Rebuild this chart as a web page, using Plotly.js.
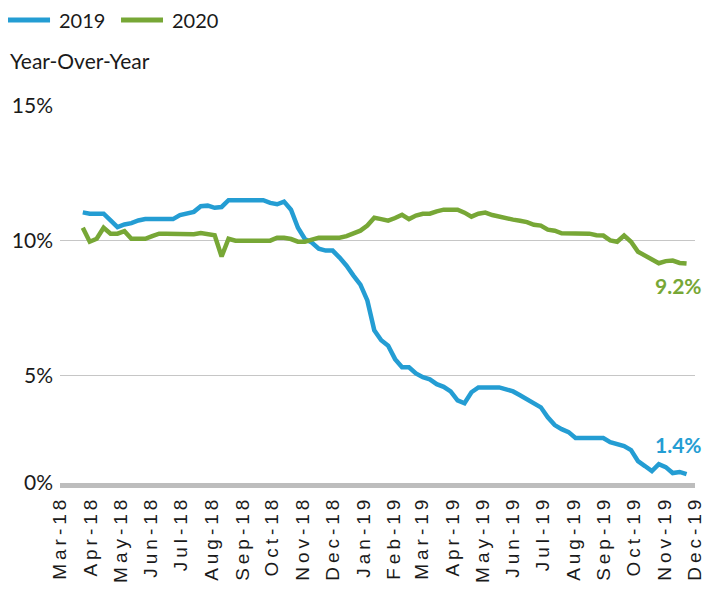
<!DOCTYPE html>
<html>
<head>
<meta charset="utf-8">
<script src="https://cdn.plot.ly/plotly-3.0.1.min.js"></script>
<style>
html,body{margin:0;padding:0;background:#fff;}
#chart{width:705px;height:594px;}
#chart .xtick text{letter-spacing:4px;}
</style>
</head>
<body>
<div id="chart"></div>
<script>
// Weekly observation dates
const weeks = [
 '2018-03-24','2018-03-31','2018-04-07','2018-04-14','2018-04-21','2018-04-28','2018-05-05','2018-05-12','2018-05-19','2018-05-26',
 '2018-06-02','2018-06-09','2018-06-16','2018-06-23','2018-06-30','2018-07-07','2018-07-14','2018-07-21','2018-07-28','2018-08-04',
 '2018-08-11','2018-08-18','2018-08-25','2018-09-01','2018-09-08','2018-09-15','2018-09-22','2018-09-29','2018-10-06','2018-10-13',
 '2018-10-20','2018-10-27','2018-11-03','2018-11-10','2018-11-17','2018-11-24','2018-12-01','2018-12-08','2018-12-15','2018-12-22',
 '2018-12-29','2019-01-05','2019-01-12','2019-01-19','2019-01-26','2019-02-02','2019-02-09','2019-02-16','2019-02-23','2019-03-02',
 '2019-03-09','2019-03-16','2019-03-23','2019-03-30','2019-04-06','2019-04-13','2019-04-20','2019-04-27','2019-05-04','2019-05-11',
 '2019-05-18','2019-05-25','2019-06-01','2019-06-08','2019-06-15','2019-06-22','2019-06-29','2019-07-06','2019-07-13','2019-07-20',
 '2019-07-27','2019-08-03','2019-08-10','2019-08-17','2019-08-24','2019-08-31','2019-09-07','2019-09-14','2019-09-21','2019-09-28',
 '2019-10-05','2019-10-12','2019-10-19','2019-10-26','2019-11-02','2019-11-09','2019-11-16','2019-11-23'
];

// Year-over-year %, series "2019"
const series2019 = [
 11.05, 11.0, 11.0, 11.0, 10.75, 10.5, 10.6, 10.65, 10.75, 10.8,
 10.8, 10.8, 10.8, 10.8, 10.95, 11.0, 11.07, 11.28, 11.3, 11.22,
 11.25, 11.5, 11.5, 11.5, 11.5, 11.5, 11.5, 11.4, 11.35, 11.45,
 11.15, 10.48, 10.06, 9.93, 9.7, 9.63, 9.63, 9.37, 9.07, 8.7,
 8.37, 7.78, 6.67, 6.3, 6.1, 5.6, 5.3, 5.3, 5.07, 4.93,
 4.85, 4.67, 4.57, 4.4, 4.07, 3.96, 4.37, 4.55, 4.55, 4.55,
 4.55, 4.48, 4.4, 4.26, 4.11, 4.0, 3.81, 3.44, 3.15, 3.0,
 2.89, 2.67, 2.67, 2.67, 2.67, 2.67, 2.52, 2.44, 2.37, 2.22,
 1.81, 1.63, 1.44, 1.7, 1.59, 1.37, 1.41, 1.33
];

// Year-over-year %, series "2020"
const series2020 = [
 10.48, 9.96, 10.07, 10.48, 10.26, 10.26, 10.35, 10.07, 10.07, 10.07,
 10.17, 10.26, 10.26, 10.26, 10.25, 10.22, 10.24, 10.28, 10.25, 10.2,
 9.41, 10.07, 10.0, 10.0, 10.0, 10.0, 10.0, 10.0, 10.11, 10.11,
 10.06, 9.96, 9.96, 10.05, 10.11, 10.11, 10.11, 10.11, 10.17, 10.27,
 10.37, 10.56, 10.85, 10.8, 10.74, 10.84, 10.96, 10.8, 10.93, 11.0,
 11.0, 11.09, 11.15, 11.15, 11.15, 11.04, 10.89, 11.0, 11.04, 10.95,
 10.88, 10.85, 10.78, 10.74, 10.69, 10.59, 10.56, 10.41, 10.37, 10.27,
 10.26, 10.26, 10.26, 10.26, 10.2, 10.19, 10.01, 9.96, 10.19, 9.96,
 9.59, 9.44, 9.3, 9.16, 9.24, 9.26, 9.17, 9.15
];

const seriesNames = ['2019', '2020'];
const monthTicks = ['2018-03-01','2018-04-01','2018-05-01','2018-06-01','2018-07-01','2018-08-01','2018-09-01','2018-10-01',
 '2018-11-01','2018-12-01','2019-01-01','2019-02-01','2019-03-01','2019-04-01','2019-05-01','2019-06-01','2019-07-01',
 '2019-08-01','2019-09-01','2019-10-01','2019-11-01','2019-12-01'];
const monthLabels = ['Mar-18','Apr-18','May-18','Jun-18','Jul-18','Aug-18','Sep-18','Oct-18','Nov-18','Dec-18',
 'Jan-19','Feb-19','Mar-19','Apr-19','May-19','Jun-19','Jul-19','Aug-19','Sep-19','Oct-19','Nov-19','Dec-19'];
const yTickVals = [1.0, 5, 10, 15];
const yTickText = ['0%', '5%', '10%', '15%'];
const endLabels = ['1.4%', '9.2%'];

const BLUE = '#249dd3';
const GREEN = '#77a736';
const TEXT = '#1a1a1a';
const FONT = 'Lato, "Noto Sans", sans-serif';
const colors = [BLUE, GREEN];

const traces = [
  {x: weeks, y: series2019, name: seriesNames[0], type: 'scatter', mode: 'lines',
   line: {color: BLUE, width: 4.5}},
  {x: weeks, y: series2020, name: seriesNames[1], type: 'scatter', mode: 'lines',
   line: {color: GREEN, width: 4.5}}
];

// legend built as layout decorations (swatch + label), placed above the plot (plot spans x 60..695)
const legendSwatchX = [[-0.0819, -0.0157], [0.0961, 0.1622]];
const legendTextX = [-0.0047, 0.1732];
const legendY = 1.228;
const shapes = [];
const annotations = [];
seriesNames.forEach((n, i) => {
  shapes.push({type: 'line', xref: 'paper', yref: 'paper', x0: legendSwatchX[i][0], x1: legendSwatchX[i][1],
               y0: legendY, y1: legendY, line: {color: colors[i], width: 5}});
  annotations.push({xref: 'paper', yref: 'paper', x: legendTextX[i], y: legendY, xanchor: 'left', yanchor: 'middle',
               showarrow: false, text: n, font: {family: FONT, size: 20, color: TEXT}});
});

const last = weeks.length - 1;
annotations.push(
  {xref: 'paper', yref: 'paper', x: -0.0819, y: 1.12, xanchor: 'left', yanchor: 'middle', showarrow: false,
   text: 'Year-Over-Year', font: {family: FONT, size: 21, color: TEXT}},
  {xref: 'x', yref: 'y', x: weeks[last], y: series2019[last], xanchor: 'center', yanchor: 'middle', xshift: -8, yshift: 30,
   showarrow: false, text: '<b>' + endLabels[0] + '</b>', font: {family: FONT, size: 21, color: BLUE}},
  {xref: 'x', yref: 'y', x: weeks[last], y: series2020[last], xanchor: 'center', yanchor: 'middle', xshift: -8, yshift: -22,
   showarrow: false, text: '<b>' + endLabels[1] + '</b>', font: {family: FONT, size: 21, color: GREEN}}
);

const layout = {
  width: 705, height: 594,
  margin: {l: 60, r: 10, t: 106, b: 111},
  paper_bgcolor: '#fff', plot_bgcolor: '#fff',
  font: {family: FONT, size: 18, color: TEXT},
  showlegend: false,
  xaxis: {type: 'date', range: ['2018-03-01', '2019-12-01 12:00'], tickvals: monthTicks, ticktext: monthLabels,
          tickangle: -90, ticklabeloverflow: 'allow', automargin: false,
          tickfont: {family: '"Liberation Sans", Arial, sans-serif', size: 19, color: TEXT},
          showgrid: false, zeroline: false, showline: true, linecolor: '#bdbdbd', linewidth: 5, ticks: '', fixedrange: true},
  yaxis: {range: [1.0, 15], tickvals: yTickVals, ticktext: yTickText, showgrid: true, gridcolor: '#c6c6c6', gridwidth: 1.5,
          zeroline: false, showline: false, ticks: '', ticklabelstandoff: 6,
          tickfont: {family: FONT, size: 21, color: TEXT}, fixedrange: true},
  shapes: shapes,
  annotations: annotations
};

Plotly.newPlot('chart', traces, layout, {displayModeBar: false, staticPlot: true});
</script>
</body>
</html>
